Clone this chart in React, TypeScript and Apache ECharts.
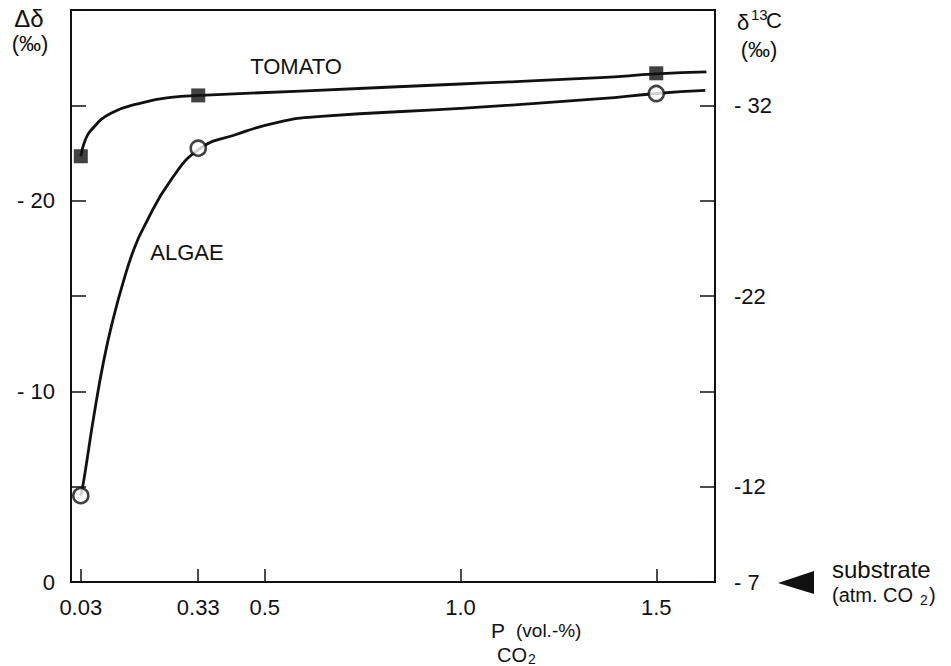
import React, { useEffect, useRef } from "react";
import * as echarts from "echarts";

// ---- data ----
// measured points (P_CO2 in vol.-%, Δδ magnitude in ‰)
const tomatoPointsX = [0.03, 0.33, 1.5];
const tomatoPointsY = [22.33, 25.52, 26.68];
const algaePointsX = [0.03, 0.33, 1.5];
const algaePointsY = [4.53, 22.75, 25.62];

// fitted curves
const tomatoCurveX = [0.03, 0.04, 0.056, 0.107, 0.191, 0.26, 0.336, 0.592, 1.0, 1.357, 1.5, 1.628];
const tomatoCurveY = [22.33, 23.1, 23.69, 24.58, 25.16, 25.42, 25.52, 25.75, 26.12, 26.45, 26.65, 26.75];
const algaeCurveX = [0.03, 0.038, 0.063, 0.089, 0.114, 0.14, 0.165, 0.191, 0.26, 0.336, 0.421, 0.533, 0.643, 1.0, 1.357, 1.5, 1.625];
const algaeCurveY = [4.53, 5.37, 8.66, 11.65, 13.9, 15.84, 17.41, 18.61, 21.08, 22.75, 23.43, 24.11, 24.42, 24.84, 25.35, 25.62, 25.78];

// tick labels
const xTickValues = [0.03, 0.33, 0.5, 1.0, 1.5];
const xTickLabels = ["0.03", "0.33", "0.5", "1.0", "1.5"];
const leftLabelValues = [0, 10, 20];
const leftLabelTexts = ["0", "- 10", "- 20"];
const rightLabelValues = [0, 5, 15, 25];
const rightLabelTexts = ["- 7", "-12", "-22", "- 32"];

const INK = "#111";
const FONT = "Liberation Sans";

function zip(xs: number[], ys: number[]) {
  return xs.map((x, i) => [x, ys[i]]);
}

export default function App() {
  const ref = useRef<HTMLDivElement>(null);
  useEffect(() => {
    if (!ref.current) return;
    const chart = echarts.init(ref.current, undefined, { renderer: "svg" });
    const labelFor = (vals: number[], texts: string[]) => (v: number) => {
      const i = vals.findIndex((x) => Math.abs(x - v) < 1e-6);
      return i >= 0 ? texts[i] : "";
    };
    const txt = (text: string, x: number, y: number, size: number, align: string = "left") => ({
      type: "text",
      x,
      y,
      style: {
        text,
        fill: INK,
        font: `${size}px "${FONT}"`,
        textAlign: align,
        textVerticalAlign: "middle",
      },
    });
    chart.setOption({
      animation: false,
      backgroundColor: "#fff",
      grid: {
        left: 71,
        right: 236,
        top: 10,
        bottom: 84,
        show: true,
        borderColor: INK,
        borderWidth: 2,
      },
      xAxis: {
        type: "value",
        min: 0.005,
        max: 1.65,
        splitLine: { show: false },
        axisLine: { show: true, lineStyle: { color: INK, width: 2 } },
        axisTick: {
          show: true,
          inside: true,
          length: 13,
          customValues: xTickValues,
          lineStyle: { color: INK, width: 1.5 },
        },
        axisLabel: {
          customValues: xTickValues,
          formatter: labelFor(xTickValues, xTickLabels),
          color: INK,
          fontFamily: FONT,
          fontSize: 22,
          margin: 14,
        },
      },
      yAxis: [
        {
          type: "value",
          position: "left",
          min: 0,
          max: 30,
          interval: 5,
          splitLine: { show: false },
          axisLine: { show: true, lineStyle: { color: INK, width: 2 } },
          axisTick: { show: true, inside: true, length: 15, lineStyle: { color: INK, width: 1.5 } },
          axisLabel: {
            formatter: labelFor(leftLabelValues, leftLabelTexts),
            color: INK,
            fontFamily: FONT,
            fontSize: 22,
            margin: 16,
            showMinLabel: true,
          },
        },
        {
          type: "value",
          position: "right",
          min: 0,
          max: 30,
          interval: 5,
          splitLine: { show: false },
          axisLine: { show: true, lineStyle: { color: INK, width: 2 } },
          axisTick: { show: true, inside: true, length: 15, lineStyle: { color: INK, width: 1.5 } },
          axisLabel: {
            formatter: labelFor(rightLabelValues, rightLabelTexts),
            color: INK,
            fontFamily: FONT,
            fontSize: 22,
            margin: 19,
            showMinLabel: true,
          },
        },
      ],
      series: [
        {
          name: "TOMATO curve",
          type: "line",
          data: zip(tomatoCurveX, tomatoCurveY),
          smooth: 0.5,
          showSymbol: false,
          symbol: "none",
          lineStyle: { color: INK, width: 2.8 },
          z: 2,
        },
        {
          name: "ALGAE curve",
          type: "line",
          data: zip(algaeCurveX, algaeCurveY),
          smooth: 0.5,
          showSymbol: false,
          symbol: "none",
          lineStyle: { color: INK, width: 2.8 },
          z: 2,
        },
        {
          name: "TOMATO",
          type: "scatter",
          data: zip(tomatoPointsX, tomatoPointsY),
          symbol: "rect",
          symbolSize: 14,
          itemStyle: { color: INK },
          z: 5,
        },
        {
          name: "ALGAE",
          type: "scatter",
          data: zip(algaePointsX, algaePointsY),
          symbol: "circle",
          symbolSize: 15,
          itemStyle: { color: "#fff", borderColor: INK, borderWidth: 2.6 },
          z: 5,
        },
      ],
      graphic: [
        txt("Δδ", 29, 18, 24, "center"),
        txt("(‰)", 30, 43, 22, "center"),
        txt("δ", 737, 22, 22),
        txt("13", 751, 14, 15),
        txt("C", 766, 20, 22),
        txt("(‰)", 759, 49, 22, "center"),
        txt("TOMATO", 296, 66, 22, "center"),
        txt("ALGAE", 187, 252, 22, "center"),
        txt("P", 491, 630, 21),
        txt("(vol.-%)", 516, 630, 19),
        txt("CO", 497, 655, 20),
        txt("2", 528, 659, 14),
        {
          type: "polygon",
          shape: { points: [[778, 583], [814, 571], [814, 594]] },
          style: { fill: INK },
        },
        txt("substrate", 832, 569, 24),
        txt("(atm. CO", 832, 595, 20),
        txt("2", 920, 600, 14),
        txt(")", 929, 595, 20),
      ],
    });
    return () => chart.dispose();
  }, []);
  return (
    <div
      ref={ref}
      style={{ position: "fixed", left: 0, top: 0, width: 951, height: 666, background: "#fff" }}
    />
  );
}
